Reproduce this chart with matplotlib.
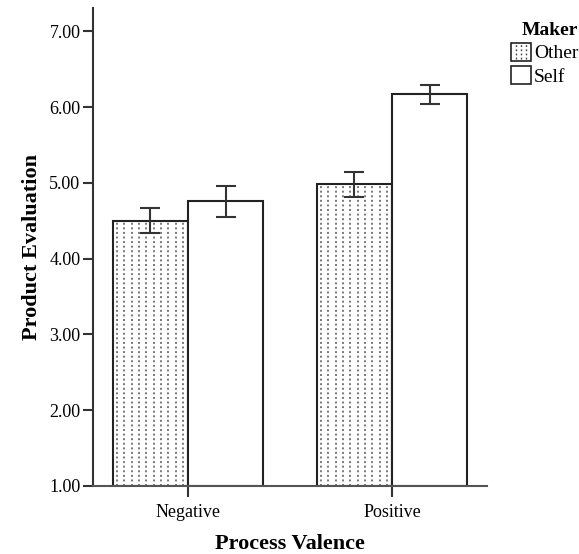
import matplotlib
matplotlib.use("Agg")
import matplotlib.pyplot as plt
import numpy as np
from matplotlib.patches import Patch
from matplotlib.legend_handler import HandlerPatch
from matplotlib.patches import Rectangle

categories = ["Negative", "Positive"]
makers = ["Other", "Self"]
means_other = [4.50, 4.99]
means_self = [4.76, 6.17]
err_low_other = [4.34, 4.82]
err_high_other = [4.67, 5.14]
err_low_self = [4.55, 6.04]
err_high_self = [4.96, 6.29]
yticks = [1.0, 2.0, 3.0, 4.0, 5.0, 6.0, 7.0]

plt.rcParams['font.family'] = ['Liberation Serif', 'DejaVu Serif']

fig = plt.figure(figsize=(5.79, 5.54), dpi=100)
ax = fig.add_axes([93/579, 1-486/554, (487-93)/579, (486-8)/554])

x = np.arange(len(categories))
w = 0.37
base = 1.0

def add_dots(artist_ax, x0, y0, bw, bh, n, clip, lw=1.1):
    xs = x0 + bw * (np.arange(n) + 0.6) / (n + 0.3)
    lc = artist_ax.vlines(xs, y0, y0 + bh, colors='#555555',
                          linestyles=(0, (1.3, 1.7)), linewidth=lw, zorder=3)
    lc.set_clip_path(clip)
    return lc

def draw(xpos, means, lo, hi, dotted):
    heights = [m - base for m in means]
    bars = ax.bar(xpos, heights, width=w, bottom=base, color='white',
                  edgecolor='#222222', linewidth=1.5, zorder=2)
    m = np.array(means)
    yerr = np.vstack([m - np.array(lo), np.array(hi) - m])
    ax.errorbar(xpos, m, yerr=yerr, fmt='none', ecolor='#333333',
                elinewidth=1.5, capsize=7, capthick=1.5, zorder=4)
    if dotted:
        for b in bars:
            add_dots(ax, b.get_x(), b.get_y(), b.get_width(), b.get_height(), 10, b)
    return bars

b1 = draw(x - w/2, means_other, err_low_other, err_high_other, True)
b2 = draw(x + w/2, means_self, err_low_self, err_high_self, False)

ax.set_xlim(-0.466, 1.466)
ax.set_ylim(1.0, 7.31)
ax.set_yticks(yticks)
ax.set_yticklabels([f"{v:.2f}" for v in yticks], fontsize=13)
ax.set_xticks(x)
ax.set_xticklabels(categories, fontsize=13)
for s in ['top', 'right']:
    ax.spines[s].set_visible(False)
ax.spines['left'].set_linewidth(1.5)
ax.spines['bottom'].set_linewidth(1.5)
ax.spines['left'].set_color('#333333')
ax.spines['bottom'].set_color('#555555')
ax.tick_params(axis='y', direction='out', length=7, width=1.5, color='#333333', pad=2)
ax.tick_params(axis='x', direction='out', length=8, width=1.5, color='#333333', pad=5)

ax.set_ylabel("Product Evaluation", fontsize=16, fontweight='bold', labelpad=5)
ax.set_xlabel("Process Valence", fontsize=16, fontweight='bold', labelpad=9)


class DottedHandler(HandlerPatch):
    def create_artists(self, legend, orig_handle, xdescent, ydescent,
                       width, height, fontsize, trans):
        r = Rectangle((-xdescent, -ydescent), width, height, facecolor='white',
                      edgecolor='#222222', linewidth=1.2, transform=trans)
        arts = [r]
        if getattr(orig_handle, '_dotted', False):
            for i in range(3):
                xx = -xdescent + width * (i + 1) / 4
                ln = matplotlib.lines.Line2D([xx, xx], [-ydescent + 1, -ydescent + height - 1],
                                             color='#444444', linewidth=1.0,
                                             linestyle=(0, (1.3, 1.7)), transform=trans)
                arts.append(ln)
        return arts


h_other = Patch(facecolor='white', edgecolor='#222222')
h_other._dotted = True
h_self = Patch(facecolor='white', edgecolor='#222222')
h_self._dotted = False
leg = fig.legend([h_other, h_self], makers, title="Maker", loc='upper left',
                 bbox_to_anchor=(497/579, 1-8/554), frameon=False, fontsize=14,
                 handlelength=1.05, handleheight=1.05, handletextpad=0.15,
                 labelspacing=0.2, borderpad=0.2,
                 handler_map={Patch: DottedHandler()},
                 title_fontproperties={'weight': 'bold', 'size': 14})
leg._legend_box.align = "right"

fig.savefig("out.png", dpi=100)
